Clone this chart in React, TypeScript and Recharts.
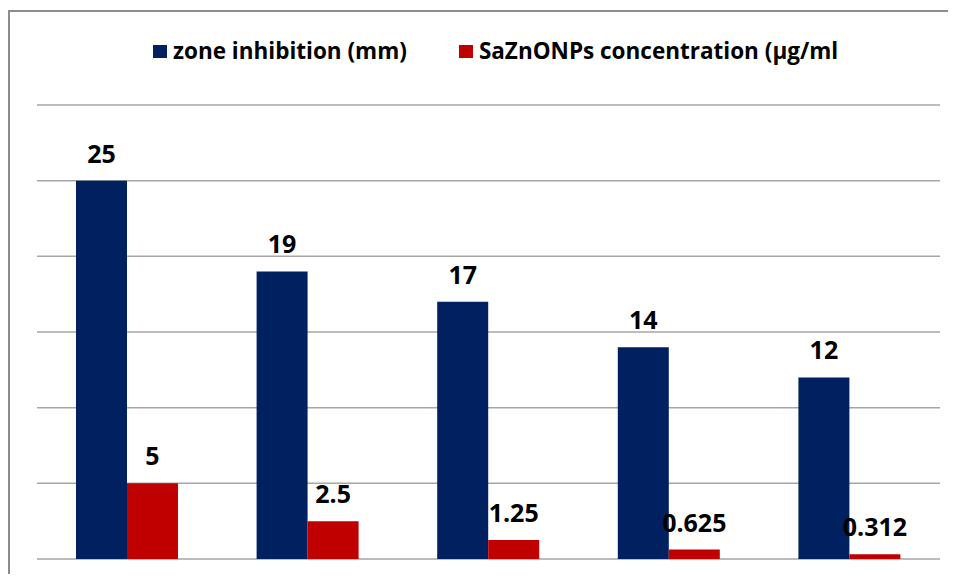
import React from "react";
import { BarChart, Bar, XAxis, YAxis, CartesianGrid, Legend, LabelList } from "recharts";

const categories = ["1", "2", "3", "4", "5"];
const zoneInhibition = [25, 19, 17, 14, 12];
const concentration = [5, 2.5, 1.25, 0.625, 0.312];
const yTicks = [0, 5, 10, 15, 20, 25, 30];

const series = [
  { key: "zone", name: "zone inhibition (mm)", color: "#002060" },
  { key: "conc", name: "SaZnONPs concentration (µg/ml", color: "#C00000" },
];

const data = categories.map((c, i) => ({
  cat: c,
  zone: zoneInhibition[i],
  conc: concentration[i],
}));

const FONT = "'Open Sans', sans-serif";

const LegendContent = () => (
  <div
    style={{
      display: "flex",
      alignItems: "center",
      height: 30,
      lineHeight: "30px",
      fontFamily: FONT,
      fontWeight: 700,
      fontSize: 22.5,
      color: "#000",
      whiteSpace: "nowrap",
    }}
  >
    {series.map((s, i) => (
      <div key={s.key} style={{ display: "flex", alignItems: "center", marginRight: i === 0 ? 52 : 0 }}>
        <span style={{ display: "inline-block", width: 14, height: 13, background: s.color, marginRight: 6 }} />
        <span>{s.name}</span>
      </div>
    ))}
  </div>
);

export default function App() {
  return (
    <div style={{ position: "relative", width: 948, height: 566 }}>
      <div
        style={{
          position: "absolute",
          left: 0,
          top: 2,
          width: 948,
          height: 572,
          borderLeft: "2px solid #8c8c8c",
          borderTop: "2px solid #8c8c8c",
          boxSizing: "border-box",
        }}
      />
      <div style={{ position: "absolute", left: 0, top: 0 }}>
        <BarChart
          width={948}
          height={566}
          data={data}
          margin={{ top: 67, right: 16, bottom: 15, left: 29 }}
          barGap={0}
          barSize={51}
        >
          <CartesianGrid vertical={false} stroke="#a6a6a6" strokeWidth={1.5} />
          <XAxis dataKey="cat" hide />
          <YAxis hide domain={[0, 30]} ticks={yTicks} />
          <Legend
            verticalAlign="top"
            content={<LegendContent />}
            wrapperStyle={{ position: "absolute", left: 145, top: 28, width: "auto" }}
          />
          {series.map((s) => (
            <Bar key={s.key} dataKey={s.key} name={s.name} fill={s.color} isAnimationActive={false}>
              <LabelList
                dataKey={s.key}
                position="top"
                offset={18}
                style={{ fontFamily: FONT, fontWeight: 700, fontSize: 25, fill: "#000" }}
              />
            </Bar>
          ))}
        </BarChart>
      </div>
    </div>
  );
}
